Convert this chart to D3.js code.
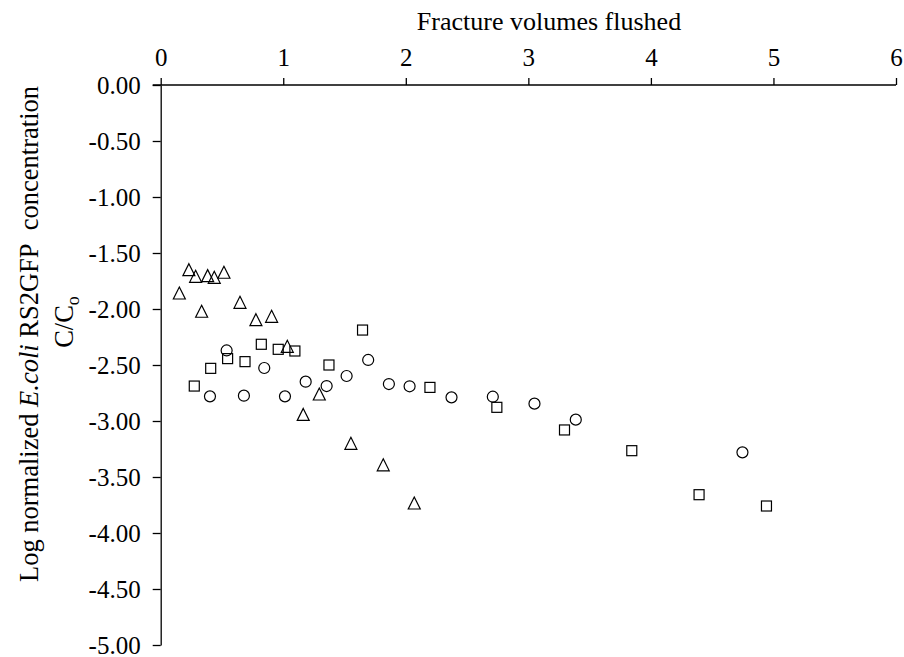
<!DOCTYPE html>
<html lang="en">
<head>
<meta charset="UTF-8">
<title>E. coli RS2GFP breakthrough</title>
<script src="https://d3js.org/d3.v7.min.js"></script>
<style>
  body { margin: 0; background: #fff; }
  svg text { font-family: "Liberation Serif", "Times New Roman", serif; fill: #000; }
</style>
</head>
<body>
<svg id="chart"></svg>
<script>
// fracture volumes flushed (x) and log C/Co (y), one pair of arrays per series
var triX = [0.152, 0.23, 0.285, 0.334, 0.383, 0.437, 0.516, 0.647, 0.777, 0.905, 1.033, 1.163, 1.294, 1.552, 1.816, 2.069];
var triY = [-1.866, -1.658, -1.717, -2.029, -1.711, -1.726, -1.681, -1.949, -2.104, -2.074, -2.342, -2.95, -2.768, -3.208, -3.40, -3.741];

var sqX = [0.274, 0.408, 0.546, 0.688, 0.821, 0.959, 1.095, 1.373, 1.647, 2.197, 2.743, 3.295, 3.844, 4.393, 4.943];
var sqY = [-2.688, -2.53, -2.443, -2.47, -2.315, -2.36, -2.375, -2.5, -2.188, -2.70, -2.878, -3.08, -3.265, -3.658, -3.759];

var circX = [0.402, 0.538, 0.679, 0.845, 1.014, 1.183, 1.354, 1.517, 1.693, 1.862, 2.031, 2.373, 2.71, 3.05, 3.387, 4.747];
var circY = [-2.78, -2.37, -2.774, -2.527, -2.78, -2.649, -2.688, -2.598, -2.455, -2.67, -2.69, -2.789, -2.783, -2.845, -2.988, -3.28];

var xTicks = [0, 1, 2, 3, 4, 5, 6];
var yTicks = [0, -0.5, -1, -1.5, -2, -2.5, -3, -3.5, -4, -4.5, -5];

var W = 904, H = 657;
var svg = d3.select("#chart").attr("width", W).attr("height", H);

// scales
var x = d3.scaleLinear().domain([0, 6]).range([160.7, 896]);
var y = d3.scaleLinear().domain([0, -5]).range([85, 645]);

// plain hyphen for negatives, like the original
var fmtY = function(d) { return d3.format(".2f")(d).replace("\u2212", "-"); };

// x axis along the top
var gx = svg.append("g")
  .attr("transform", "translate(0," + y(0) + ")")
  .call(d3.axisTop(x).tickValues(xTicks).tickFormat(d3.format("d"))
        .tickSizeInner(7).tickSizeOuter(0).tickPadding(12));

// y axis on the left
var gy = svg.append("g")
  .attr("transform", "translate(" + x(0) + ",0)")
  .call(d3.axisLeft(y).tickValues(yTicks).tickFormat(fmtY)
        .tickSizeInner(8).tickSizeOuter(0).tickPadding(12));

// the top axis line also runs left past the y axis, like the 0.00 tick
gx.select(".domain").attr("d", "M" + (x(0) - 8) + ",0H" + x(6));

svg.selectAll(".tick text").style("font-size", "25px")
  .style("font-family", "'Liberation Serif', serif");
svg.selectAll(".domain, .tick line").attr("stroke", "#000").attr("stroke-width", 1.3);

// axis titles
svg.append("text")
  .attr("x", 549).attr("y", 30)
  .attr("text-anchor", "middle")
  .style("font-size", "26px")
  .text("Fracture volumes flushed");

var yt = svg.append("text")
  .attr("transform", "translate(38,334) rotate(-90)")
  .attr("text-anchor", "middle")
  .style("font-size", "26.5px");
yt.append("tspan").text("Log normalized ");
yt.append("tspan").style("font-style", "italic").text("E.coli");
yt.append("tspan").text(" RS2GFP\u00a0 concentration");

var yt2 = svg.append("text")
  .attr("transform", "translate(73,322) rotate(-90)")
  .attr("text-anchor", "middle")
  .style("font-size", "26.5px");
yt2.append("tspan").text("C/C");
yt2.append("tspan").attr("dy", 6).style("font-size", "18px").text("o");

// markers
var pts = svg.append("g").attr("fill", "none").attr("stroke", "#000").attr("stroke-width", 1.2);

pts.selectAll("path.tri")
  .data(d3.zip(triX, triY))
  .join("path")
  .attr("class", "tri")
  .attr("d", function(d) {
    var cx = x(d[0]), cy = y(d[1]);
    return "M" + cx + "," + (cy - 7) + "L" + (cx + 6) + "," + (cy + 5) + "L" + (cx - 6) + "," + (cy + 5) + "Z";
  });

pts.selectAll("rect.sq")
  .data(d3.zip(sqX, sqY))
  .join("rect")
  .attr("class", "sq")
  .attr("x", function(d) { return x(d[0]) - 5; })
  .attr("y", function(d) { return y(d[1]) - 5; })
  .attr("width", 10)
  .attr("height", 10);

pts.selectAll("circle.ci")
  .data(d3.zip(circX, circY))
  .join("circle")
  .attr("class", "ci")
  .attr("cx", function(d) { return x(d[0]); })
  .attr("cy", function(d) { return y(d[1]); })
  .attr("r", 5.5);
</script>
</body>
</html>
